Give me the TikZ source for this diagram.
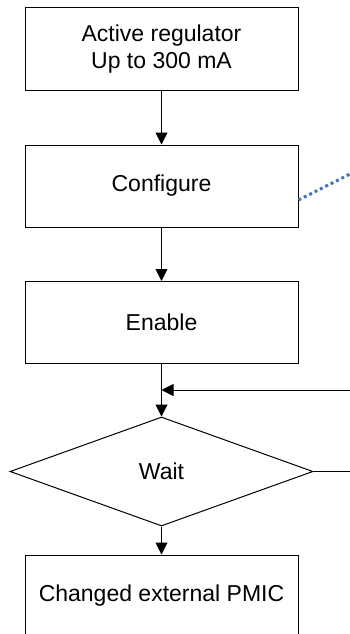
\documentclass[tikz,border=0pt]{standalone}
\usepackage{fontspec}
\setmainfont{Liberation Sans}
\usetikzlibrary{arrows.meta,shapes.geometric}
\definecolor{dotblue}{HTML}{4472C4}
\begin{document}
\begin{tikzpicture}[x=1pt,y=-1pt,
  box/.style={draw, line width=1pt, minimum width=273pt, minimum height=82pt, align=center,
    font=\fontsize{23}{26.7}\selectfont, inner sep=0pt},
  decide/.style={draw, diamond, line width=1pt, minimum width=303pt, minimum height=109pt,
    inner sep=0pt, font=\fontsize{23}{26.7}\selectfont},
  flow/.style={-{Triangle[length=12pt,width=12pt]}, line width=1pt},
  plain/.style={line width=1pt},
  dotline/.style={dotblue, line width=3pt, dash pattern=on 3pt off 3pt}]
\useasboundingbox (0,0) rectangle (350,634);
\clip (0,0) rectangle (350,634);
\node[box] (b1) at (161.5,49) {Active regulator\\Up to 300 mA};
\node[box] (b2) at (161.5,186) {Configure};
\node[box] (b3) at (161.5,322.5) {Enable};
\node[decide] (w) at (161.5,471.5) {Wait};
\node[box] (b4) at (161.5,596) {Changed external PMIC};
\draw[flow] (b1) -- (b2);
\draw[flow] (b2) -- (b3);
\draw[flow] (b3) -- (w);
\draw[flow] (w) -- (b4);
\coordinate (fbin) at (352,390);
\draw[flow] (fbin) -- (b3.south |- fbin);
\coordinate (wout) at (352,471.5);
\draw[plain] (w.east) -- (wout);
\coordinate (dotend) at (356,171);
\draw[dotline] ([yshift=-14pt]b2.east) -- (dotend);
\end{tikzpicture}
\end{document}
